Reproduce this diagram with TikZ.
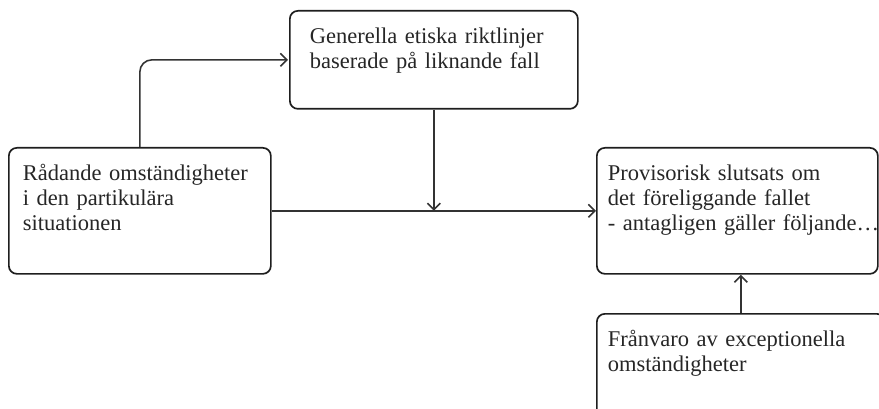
\documentclass[tikz,border=0pt]{standalone}
\usepackage{fontspec}
\setmainfont{Liberation Serif}
\usetikzlibrary{positioning}
\usetikzlibrary{arrows.meta}
\definecolor{boxline}{HTML}{1E1E1E}
\definecolor{arrline}{HTML}{333333}
\definecolor{boxtext}{HTML}{262626}
\tikzset{
    box/.style = {rectangle, draw=boxline, line width=1.7pt, rounded corners=8pt, anchor=north west,
                  align=left, inner ysep=0pt, text height=33pt, text=boxtext,
                  font={\fontsize{22.5}{25}\selectfont}},
    boxa/.style = {box, inner xsep=14pt, text width=234pt, text depth=93pt},
    boxb/.style = {box, inner xsep=20pt, text width=248pt, text depth=65pt},
    boxc/.style = {box, inner xsep=11pt, text width=259pt, text depth=93pt},
    boxd/.style = {box, inner xsep=11pt, text width=266pt, text depth=91pt},
    edgen/.style = {draw=arrline, line width=1.6pt, -{Straight Barb[length=6.5pt,width=13pt,line width=1.6pt]}}
}

\begin{document}
\begin{tikzpicture}[x=1pt,y=-1pt]
\useasboundingbox (0,0) rectangle (879,409);
\clip (0,0) rectangle (879,409);
\node[boxa] at (8,147) (a) {Rådande omständigheter\\i den partikulära\\situationen};
\node[boxb] at (289,10) (b) {Generella etiska riktlinjer\\baserade på liknande fall};
\node[boxc] at (596,147) (c) {Provisorisk slutsats om\\det föreliggande fallet\\\mbox{- antagligen gäller följande…}};
\node[boxd] at (596,313) (d) {Frånvaro av exceptionella\\omständigheter};
\coordinate (join) at (b.south |- a.east);
%
\draw[edgen, rounded corners=12pt] (a.north) |- ([xshift=-1pt]b.west);
\draw[edgen] (a.east) -- (c.west);
\draw[edgen] (b.south) -- (join);
\draw[edgen] (d.north) -- (d.north |- c.south);
\end{tikzpicture}
\end{document}
